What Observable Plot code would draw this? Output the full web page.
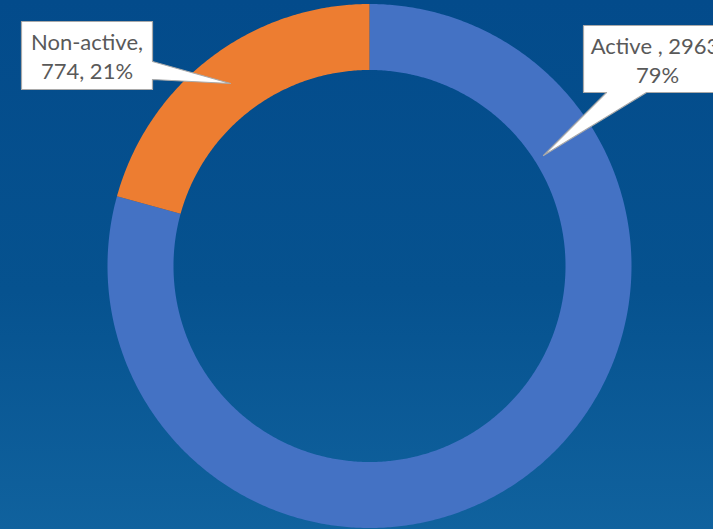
<!DOCTYPE html>
<html>
<head>
<meta charset="utf-8">
<script src="https://cdn.jsdelivr.net/npm/d3@7"></script>
<script src="https://cdn.jsdelivr.net/npm/@observablehq/plot@0.6"></script>
<style>
  html, body { margin: 0; padding: 0; width: 713px; height: 529px; overflow: hidden; }
  body { background: linear-gradient(to bottom, #034b8b 0%, #06528f 55%, #10629e 100%); }
  #chart svg { display: block; overflow: hidden; background: transparent; }
</style>
</head>
<body>
<div id="chart"></div>
<script>
// ---- data ----
const categories = ["Active", "Non-active"];
const values = [2963, 774];
const percents = ["79%", "21%"];
const colors = ["#4472C4", "#ED7D31"];

// ---- layout ----
const W = 713, H = 529;
const CX = 369, CY = 265.5, R_OUT = 262, R_IN = 196;
const inner = R_IN / R_OUT;
// pixel -> data helpers for annotations
const dx = px => (px - CX) / R_OUT;
const dy = py => (CY - py) / R_OUT;

// build slice polygons from values
const total = d3.sum(values);
const slices = [];
let acc = 0;
values.forEach((v, i) => {
  const a0 = acc / total * 2 * Math.PI;
  acc += v;
  const a1 = acc / total * 2 * Math.PI;
  const n = Math.max(2, Math.ceil((a1 - a0) / (Math.PI / 360)));
  const pts = [];
  for (let k = 0; k <= n; k++) {
    const a = a0 + (a1 - a0) * k / n;
    pts.push({x: Math.sin(a), y: Math.cos(a)});
  }
  for (let k = n; k >= 0; k--) {
    const a = a0 + (a1 - a0) * k / n;
    pts.push({x: inner * Math.sin(a), y: inner * Math.cos(a)});
  }
  pts.push(pts[0]);
  pts.forEach(p => slices.push({...p, cat: categories[i], color: colors[i]}));
});

// callout shapes (annotation layout, pixel space)
const calloutPx = {
  "Non-active": [[21,21],[152,21],[152,61],[230,83],[152,79],[152,89],[21,89],[21,21]],
  "Active": [[583,25],[731,25],[731,92],[646,92],[543,155],[606,92],[583,92],[583,25]]
};
const callouts = [];
for (const [k, pts] of Object.entries(calloutPx)) {
  pts.forEach(([px, py]) => callouts.push({x: dx(px), y: dy(py), k}));
}
const labelPos = {"Non-active": [86.5, 55], "Active": [657, 59]};
const labels = categories.map((c, i) => ({
  x: dx(labelPos[c][0]),
  y: dy(labelPos[c][1]),
  text: c === "Active" ? `${c} , ${values[i]},\n${percents[i]}` : `${c},\n${values[i]}, ${percents[i]}`
}));

const plot = Plot.plot({
  width: W, height: H,
  margin: 0,
  x: {domain: [-1, 1], range: [CX - R_OUT, CX + R_OUT], axis: null},
  y: {domain: [-1, 1], range: [CY + R_OUT, CY - R_OUT], axis: null},
  style: {background: "transparent"},
  marks: [
    Plot.line(slices, {x: "x", y: "y", z: "cat", fill: "color", stroke: "none", curve: "linear"}),
    Plot.line(callouts, {x: "x", y: "y", z: "k", fill: "white", stroke: "#a9a9a9", strokeWidth: 1.2, curve: "linear"}),
    Plot.text(labels, {x: "x", y: "y", text: "text", fill: "#595959", fontSize: 22, lineHeight: 1.28,
      fontFamily: "Lato, sans-serif", textAnchor: "middle", lineAnchor: "middle"})
  ]
});
document.getElementById("chart").appendChild(plot);
</script>
</body>
</html>
